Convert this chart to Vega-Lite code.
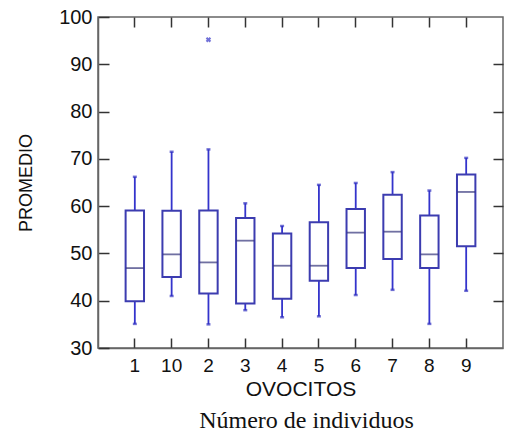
{
  "$schema": "https://vega.github.io/schema/vega-lite/v6.json",
  "width": 405,
  "height": 331,
  "autosize": "none",
  "padding": {"left": 98, "top": 17, "right": 2, "bottom": 86},
  "background": "white",
  "title": {"text": "Número de individuos", "orient": "bottom", "anchor": "middle", "dx": 6, "font": "Liberation Serif", "fontSize": 24, "fontWeight": "normal", "color": "#111111", "offset": 10},
  "config": {
    "view": {"stroke": "#666666", "strokeWidth": 1.5},
    "axis": {"grid": false, "labelFont": "Liberation Sans", "titleFont": "Liberation Sans", "labelColor": "#111111", "titleColor": "#111111", "titleFontWeight": "normal", "tickColor": "#333333", "tickWidth": 1.5, "domainColor": "#666666", "domainWidth": 1.5}
  },
  "data": {"values": [
    {"cat": "1", "low": 35.1, "q1": 39.9, "median": 46.9, "q3": 59.1, "high": 66.2},
    {"cat": "10", "low": 41.0, "q1": 45.0, "median": 49.8, "q3": 59.0, "high": 71.5},
    {"cat": "2", "low": 35.0, "q1": 41.5, "median": 48.1, "q3": 59.1, "high": 72.0, "outlier": 95.2},
    {"cat": "3", "low": 38.0, "q1": 39.4, "median": 52.7, "q3": 57.5, "high": 60.6},
    {"cat": "4", "low": 36.5, "q1": 40.4, "median": 47.4, "q3": 54.2, "high": 55.8},
    {"cat": "5", "low": 36.7, "q1": 44.2, "median": 47.4, "q3": 56.6, "high": 64.5},
    {"cat": "6", "low": 41.2, "q1": 46.9, "median": 54.4, "q3": 59.4, "high": 64.9},
    {"cat": "7", "low": 42.3, "q1": 48.8, "median": 54.6, "q3": 62.4, "high": 67.2},
    {"cat": "8", "low": 35.1, "q1": 46.9, "median": 49.8, "q3": 58.0, "high": 63.3},
    {"cat": "9", "low": 42.1, "q1": 51.5, "median": 63.0, "q3": 66.7, "high": 70.2}
  ]},
  "layer": [
    {
      "mark": {"type": "rule", "color": "#3434cc", "strokeWidth": 1.8},
      "encoding": {
        "x": {"field": "cat", "type": "nominal", "sort": ["1","10","2","3","4","5","6","7","8","9"],
              "scale": {"paddingInner": 0.5, "paddingOuter": 0.75},
              "axis": {"orient": "bottom", "title": "OVOCITOS", "labelAngle": 0, "labelFontSize": 19, "titleFontSize": 21, "tickSize": -10, "labelPadding": 18, "titlePadding": 3}},
        "y": {"field": "low", "type": "quantitative", "scale": {"domain": [30, 100], "nice": false, "zero": false},
              "axis": {"orient": "left", "title": "PROMEDIO", "values": [30,40,50,60,70,80,90,100], "labelFontSize": 20, "titleFontSize": 18, "tickSize": -11, "labelPadding": 17, "titlePadding": 23}},
        "y2": {"field": "high"}
      }
    },
    {
      "mark": {"type": "bar", "fill": "white", "stroke": "#3c3cb0", "strokeWidth": 2},
      "encoding": {
        "x": {"field": "cat", "type": "nominal", "sort": ["1","10","2","3","4","5","6","7","8","9"],
              "axis": {"orient": "top", "title": null, "labels": false, "domain": false, "tickSize": -10}},
        "y": {"field": "q1", "type": "quantitative",
              "axis": {"orient": "right", "title": null, "labels": false, "domain": false, "tickSize": -10, "values": [40,50,60,70,80,90]}},
        "y2": {"field": "q3"}
      }
    },
    {
      "mark": {"type": "tick", "color": "#33337a", "thickness": 1.8, "size": 18},
      "encoding": {
        "x": {"field": "cat", "type": "nominal", "sort": ["1","10","2","3","4","5","6","7","8","9"], "axis": null},
        "y": {"field": "median", "type": "quantitative", "axis": null}
      }
    },
    {
      "mark": {"type": "tick", "color": "#3030c0", "thickness": 2.5, "size": 4},
      "encoding": {
        "x": {"field": "cat", "type": "nominal", "sort": ["1","10","2","3","4","5","6","7","8","9"], "axis": null},
        "y": {"field": "low", "type": "quantitative", "axis": null}
      }
    },
    {
      "mark": {"type": "tick", "color": "#3030c0", "thickness": 2.5, "size": 4},
      "encoding": {
        "x": {"field": "cat", "type": "nominal", "sort": ["1","10","2","3","4","5","6","7","8","9"], "axis": null},
        "y": {"field": "high", "type": "quantitative", "axis": null}
      }
    },
    {
      "transform": [{"filter": "isValid(datum.outlier)"}],
      "mark": {"type": "point", "shape": "cross", "angle": 45, "filled": true, "color": "#3535c8", "size": 30},
      "encoding": {
        "x": {"field": "cat", "type": "nominal", "sort": ["1","10","2","3","4","5","6","7","8","9"], "axis": null},
        "y": {"field": "outlier", "type": "quantitative", "axis": null}
      }
    }
  ]
}
